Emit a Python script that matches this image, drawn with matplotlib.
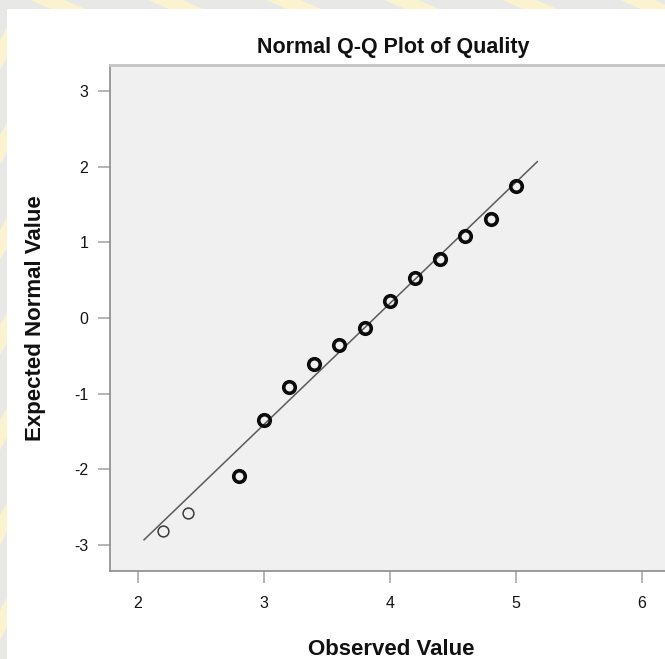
import matplotlib
matplotlib.use("Agg")
import matplotlib.pyplot as plt
from matplotlib.patches import Rectangle, Polygon
import numpy as np

# Observed values and their expected normal scores
observed = [2.2, 2.4, 2.8, 3.0, 3.2, 3.4, 3.6, 3.8, 4.0, 4.2, 4.4, 4.6, 4.8, 5.0]
expected = [-2.81, -2.58, -2.09, -1.34, -0.91, -0.61, -0.36, -0.13, 0.22, 0.53, 0.78, 1.08, 1.31, 1.74]
# Points backed by several cases are drawn with a heavier outline
heavy = [False, False, True, True, True, True, True, True, True, True, True, True, True, True]

# Reference line parameters (sample mean and standard deviation)
ref_mean = 3.88
ref_sd = 0.625
ref_x = [2.05, 5.17]

x_ticks = [2, 3, 4, 5, 6]
y_ticks = [-3, -2, -1, 0, 1, 2, 3]

W, H = 665, 659
fig = plt.figure(figsize=(W / 100, H / 100), dpi=100)
fig.patch.set_facecolor("#e8e9e7")

# decorative pale-yellow stripes on the outer border
def px(x, y):
    return (x / W, 1 - y / H)

for x0 in range(30, 700, 118):
    pts = [px(x0, 0), px(x0 + 34, 0), px(x0 + 62, 12), px(x0 + 28, 12)]
    fig.add_artist(Polygon(pts, closed=True, transform=fig.transFigure,
                           facecolor="#fbf3cf", edgecolor="none", zorder=-3))
for y0 in range(40, 680, 95):
    pts = [px(0, y0), px(10, y0 - 18), px(10, y0 + 12), px(0, y0 + 30)]
    fig.add_artist(Polygon(pts, closed=True, transform=fig.transFigure,
                           facecolor="#fbf3cf", edgecolor="none", zorder=-3))

# white panel behind the chart
fig.add_artist(Rectangle((7 / W, 0), 1, 1 - 9 / H, transform=fig.transFigure,
                         facecolor="white", edgecolor="none", zorder=-2))

left, right, top, bottom = 110, 676, 65, 571
ax = fig.add_axes([left / W, 1 - bottom / H, (right - left) / W, (bottom - top) / H])
ax.set_zorder(1)
ax.set_facecolor("#f0f0f0")
ax.set_xlim(1.78, 6.27)
ax.set_ylim(-3.34, 3.34)

for name, s in ax.spines.items():
    s.set_color("#8c8c8c")
    s.set_linewidth(1.2)
ax.spines["top"].set_color("#c4c4c4")
ax.spines["top"].set_linewidth(2.0)

lx = np.array(ref_x)
ax.plot(lx, (lx - ref_mean) / ref_sd, color="#5a5a5a", lw=1.1, zorder=2)

for xo, ye, hv in zip(observed, expected, heavy):
    ax.plot([xo], [ye], marker="o", markersize=8.3 if hv else 7.8,
            markerfacecolor="none", markeredgecolor="#0c0c0c" if hv else "#3a3a3a",
            markeredgewidth=2.6 if hv else 1.1, linestyle="none", zorder=3)

font = "Liberation Sans"
ax.set_xticks(x_ticks)
ax.set_yticks(y_ticks)
ax.set_xticklabels([str(t) for t in x_ticks], fontsize=11.5, family=font)
ax.set_yticklabels([str(t) for t in y_ticks], fontsize=11.5, family=font)
ax.tick_params(axis="both", direction="out", length=8.5, width=1.2, color="#a8a8a8",
               labelcolor="#141414")
ax.tick_params(axis="x", pad=9.5)
ax.tick_params(axis="y", pad=7)

fig.text(393 / W, 1 - 53 / H, "Normal Q-Q Plot of Quality", ha="center", va="baseline",
         fontsize=15.5, fontweight="bold", family=font, color="#111111")
fig.text(391 / W, 1 - 655 / H, "Observed Value", ha="center", va="baseline",
         fontsize=16, fontweight="bold", family=font, color="#111111")
fig.text(36 / W, 1 - 318 / H, "Expected Normal Value", ha="center", va="center",
         rotation=90, fontsize=16, fontweight="bold", family=font, color="#111111")

fig.savefig("out.png", dpi=100)
